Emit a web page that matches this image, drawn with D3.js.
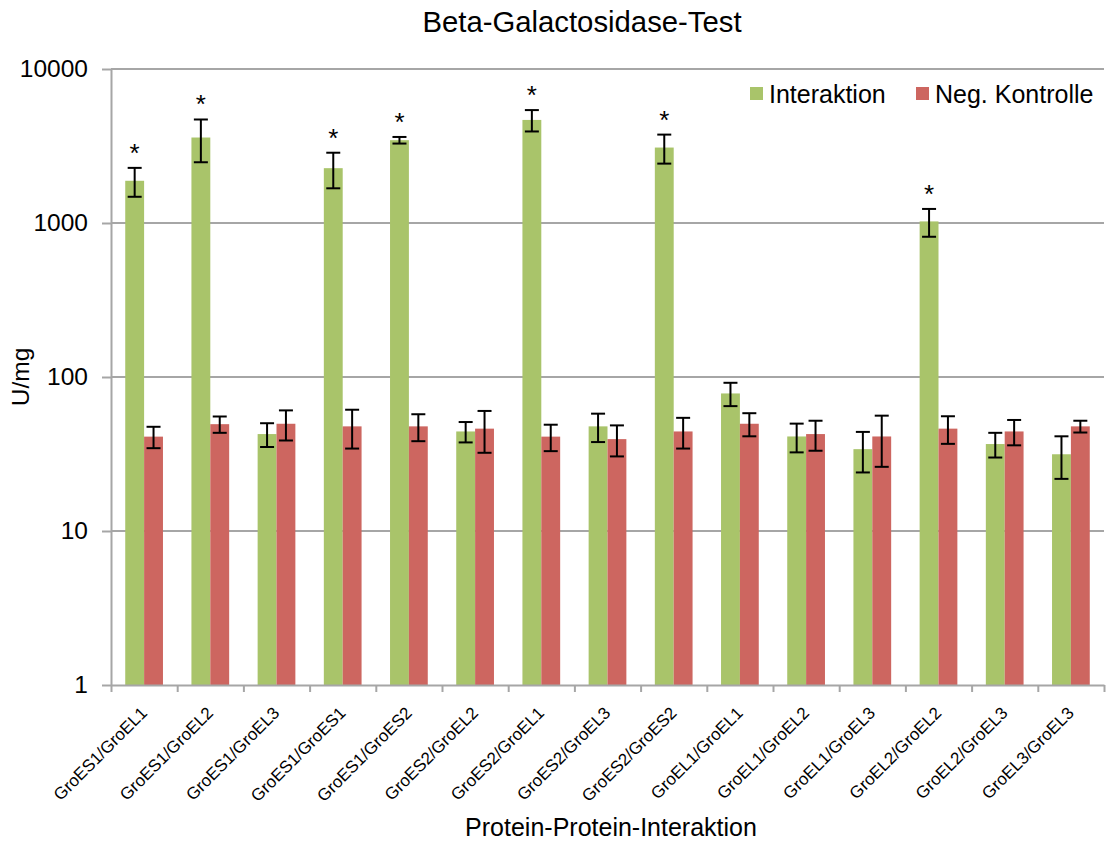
<!DOCTYPE html>
<html>
<head>
<meta charset="utf-8">
<script src="https://cdn.jsdelivr.net/npm/d3@7"></script>
<style>
  html, body { margin: 0; padding: 0; background: #fff; }
  svg { display: block; font-family: "Liberation Sans", Arial, sans-serif; }
</style>
</head>
<body>
<svg id="chart" width="1106" height="841"></svg>
<script>
const categories = ["GroES1/GroEL1","GroES1/GroEL2","GroES1/GroEL3","GroES1/GroES1","GroES1/GroES2","GroES2/GroEL2","GroES2/GroEL1","GroES2/GroEL3","GroES2/GroES2","GroEL1/GroEL1","GroEL1/GroEL2","GroEL1/GroEL3","GroEL2/GroEL2","GroEL2/GroEL3","GroEL3/GroEL3"];
const seriesNames = ["Interaktion", "Neg. Kontrolle"];
const interaktion    = [1880, 3590, 42.6, 2270, 3450, 44.3, 4670, 47.8, 3090, 78.2, 41.1, 34.0, 1024, 36.7, 31.5];
const interaktionErr = [400, 1110, 7.5, 590, 170, 6.7, 740, 10, 660, 13.5, 8.7, 10, 210, 6.7, 9.7];
const kontrolle      = [41, 49.4, 49.7, 47.8, 47.8, 46.2, 41, 39.5, 44.3, 49.7, 42.6, 41.1, 46.2, 44.3, 47.8];
const kontrolleErr   = [6.5, 6, 11, 13.5, 9.5, 14, 8, 9, 10, 8.5, 9.4, 15, 9.4, 8.3, 4.2];
const significant    = [true, true, false, true, true, false, true, false, true, false, false, false, true, false, false];
const yTicks = [1, 10, 100, 1000, 10000];
const colors = ["#A9C46A", "#CD6660"];

const svg = d3.select("#chart");
const pLeft = 111, pRight = 1104, pTop = 69, pBottom = 685;

const x0 = d3.scaleBand().domain(categories).range([pLeft, pRight]).paddingInner(0.43).paddingOuter(0.215);
const x1 = d3.scaleBand().domain(seriesNames).range([0, x0.bandwidth()]);
const xb = d3.scaleLinear().domain([0, categories.length]).range([pLeft, pRight]);
const y = d3.scaleLog().domain([1, 10000]).range([pBottom, pTop]);

// gridlines
svg.append("g").selectAll("line").data(yTicks.slice(1)).join("line")
  .attr("x1", pLeft).attr("x2", pRight)
  .attr("y1", d => y(d)).attr("y2", d => y(d))
  .attr("stroke", "#A6A6A6").attr("stroke-width", 2);

// data
const rows = categories.map((c, i) => ({
  cat: c, i,
  vals: [
    { s: seriesNames[0], v: interaktion[i], e: interaktionErr[i] },
    { s: seriesNames[1], v: kontrolle[i], e: kontrolleErr[i] }
  ]
}));

const groups = svg.append("g").selectAll("g").data(rows).join("g")
  .attr("transform", d => `translate(${x0(d.cat)},0)`);

groups.selectAll("rect").data(d => d.vals).join("rect")
  .attr("x", d => x1(d.s))
  .attr("width", x1.bandwidth())
  .attr("y", d => y(d.v))
  .attr("height", d => y(1) - y(d.v))
  .attr("fill", (d, j) => colors[j]);

// error bars
const capW = 7;
const eb = groups.selectAll("g.err").data(d => d.vals).join("g").attr("class", "err")
  .attr("transform", d => `translate(${x1(d.s) + x1.bandwidth() / 2},0)`);
eb.append("line").attr("x1", 0).attr("x2", 0)
  .attr("y1", d => y(d.v + d.e)).attr("y2", d => y(d.v - d.e))
  .attr("stroke", "#000").attr("stroke-width", 2);
eb.append("line").attr("x1", -capW).attr("x2", capW)
  .attr("y1", d => y(d.v + d.e)).attr("y2", d => y(d.v + d.e))
  .attr("stroke", "#000").attr("stroke-width", 2);
eb.append("line").attr("x1", -capW).attr("x2", capW)
  .attr("y1", d => y(d.v - d.e)).attr("y2", d => y(d.v - d.e))
  .attr("stroke", "#000").attr("stroke-width", 2);

// asterisks
svg.append("g").selectAll("text").data(rows.filter(d => significant[d.i])).join("text")
  .attr("x", d => x0(d.cat) + x1(seriesNames[0]) + x1.bandwidth() / 2)
  .attr("y", d => y(d.vals[0].v + d.vals[0].e) - 6)
  .attr("text-anchor", "middle")
  .attr("font-size", 26)
  .attr("fill", "#000")
  .text("*");

// y axis
const yAxis = svg.append("g").attr("transform", `translate(${pLeft},0)`)
  .call(d3.axisLeft(y).tickValues(yTicks).tickFormat(d3.format("d")).tickSize(9).tickSizeOuter(0).tickPadding(14));
yAxis.select(".domain").attr("stroke", "#A6A6A6").attr("stroke-width", 2);
yAxis.selectAll(".tick line").attr("stroke", "#A6A6A6").attr("stroke-width", 2);
yAxis.selectAll(".tick text").attr("font-size", 24.5).attr("fill", "#000")
  .attr("font-family", "'Liberation Sans', Arial, sans-serif");

// x axis (boundary ticks)
const xAxis = svg.append("g").attr("transform", `translate(0,${pBottom})`)
  .call(d3.axisBottom(xb).tickValues(d3.range(categories.length + 1)).tickFormat("").tickSize(7).tickSizeOuter(0));
xAxis.select(".domain").attr("stroke", "#A6A6A6").attr("stroke-width", 2);
xAxis.selectAll(".tick line").attr("stroke", "#A6A6A6").attr("stroke-width", 2);

// category labels
svg.append("g").selectAll("text").data(categories).join("text")
  .attr("transform", d => `translate(${x0(d) + x0.bandwidth() / 2 + 4},714) rotate(-45)`)
  .attr("text-anchor", "end")
  .attr("font-size", 17)
  .attr("fill", "#000")
  .text(d => d);

// titles
svg.append("text").attr("x", 582).attr("y", 32).attr("text-anchor", "middle")
  .attr("font-size", 29.3).attr("fill", "#000").text("Beta-Galactosidase-Test");
svg.append("text").attr("x", 611).attr("y", 836).attr("text-anchor", "middle")
  .attr("font-size", 25).attr("fill", "#000").text("Protein-Protein-Interaktion");
svg.append("text").attr("transform", `translate(29,${(pTop + pBottom) / 2}) rotate(-90)`)
  .attr("text-anchor", "middle").attr("font-size", 24.5).attr("fill", "#000").text("U/mg");

// legend
const legendX = [750, 916];
const lg = svg.append("g").selectAll("g").data(seriesNames).join("g")
  .attr("transform", (d, i) => `translate(${legendX[i]},87)`);
lg.append("rect").attr("width", 13).attr("height", 13).attr("fill", (d, i) => colors[i]);
lg.append("text").attr("x", 19).attr("y", 16).attr("font-size", 25).attr("fill", "#000").text(d => d);
</script>
</body>
</html>
